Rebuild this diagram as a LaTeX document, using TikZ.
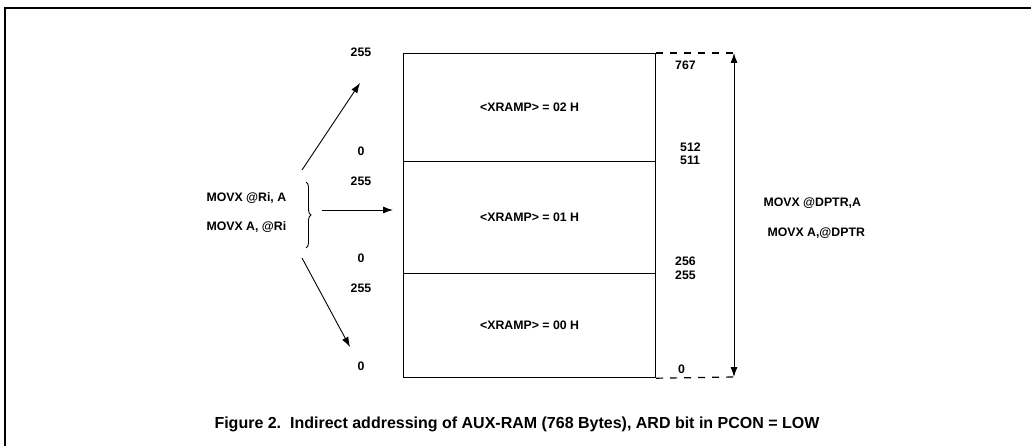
\documentclass[tikz,border=0pt]{standalone}
\usepackage{fontspec}
\setmainfont{Liberation Sans}
\usepackage{tikz}
\usetikzlibrary{arrows.meta,positioning,calc,decorations.pathreplacing}

\begin{document}
\begin{tikzpicture}[x=1pt,y=-1pt, every node/.style={font=\fontsize{12.3}{14}\selectfont\bfseries},
  bank/.style={draw,line width=1.2pt,minimum width=252pt,anchor=north west,inner sep=0pt},
  tip/.style={-{Latex[length=10pt,width=7pt]},line width=0.9pt}]
\useasboundingbox (0,0) rectangle (1031,446);
\draw[line width=1.3pt] (5,446) -- (5,8) -- (1031,8);

% the three banks of AUX-RAM
\foreach \name/\y/\h/\v in {bank2/53/108/02,bank1/161/112/01,bank0/273/104/00} {
  \node[bank,minimum height=\h pt] (\name) at (403,\y) {<XRAMP> = \v\ H};
}

% addresses at the right
\foreach \name/\x/\y/\t in {a767/675/65/767,a512/680/147/512,a511/680/160/511,a256/675/261/256,a255/675/275/255,a0/678/369/0} {
  \node[anchor=west,inner sep=0pt] (\name) at (\x,\y) {\t};
}
% addresses at the left
\foreach \name/\y/\t in {l1/52/255,l2/151/0,l3/181/255,l4/258/0,l5/288/255,l6/366/0} {
  \node[inner sep=0pt] (\name) at (361,\y) {\t};
}

% DPTR range
\coordinate (top) at (734,53);
\coordinate (bot) at (734,377);
\draw[dash pattern=on 7pt off 7pt,line width=1.2pt] (bank2.north east) -- (top);
\draw[dash pattern=on 7pt off 7pt,line width=1.2pt] (bank0.south east) -- (bot);
\draw[{Latex[length=10pt,width=7pt]}-{Latex[length=10pt,width=7pt]},line width=0.9pt] (top) -- (bot);
\node[anchor=west] (dp1) at (760,203) {MOVX @DPTR,A};
\node[anchor=west] (dp2) at (764,233) {MOVX A,@DPTR};

% Ri access
\node[anchor=west] (ri1) at (203,198) {MOVX @Ri, A};
\node[anchor=west] (ri2) at (203,227) {MOVX A, @Ri};
\coordinate (bt) at (306,182);
\coordinate (bb) at (306,248);
\draw[decorate,decoration={brace,amplitude=5pt},line width=0.9pt] (bt) -- (bb);
\coordinate (up0) at (302,170);
\coordinate (up1) at (360,83);
\coordinate (mi0) at (322,210);
\coordinate (mi1) at (393,210);
\coordinate (dn0) at (302,258);
\coordinate (dn1) at (350,347);
\draw[tip] (up0) -- (up1);
\draw[tip] (mi0) -- (mi1);
\draw[tip] (dn0) -- (dn1);

\node[font=\fontsize{16}{18}\selectfont\bfseries] (cap) at (517,424) {Figure 2.\ \ Indirect addressing of AUX-RAM (768 Bytes), ARD bit in PCON = LOW};
\end{tikzpicture}
\end{document}
